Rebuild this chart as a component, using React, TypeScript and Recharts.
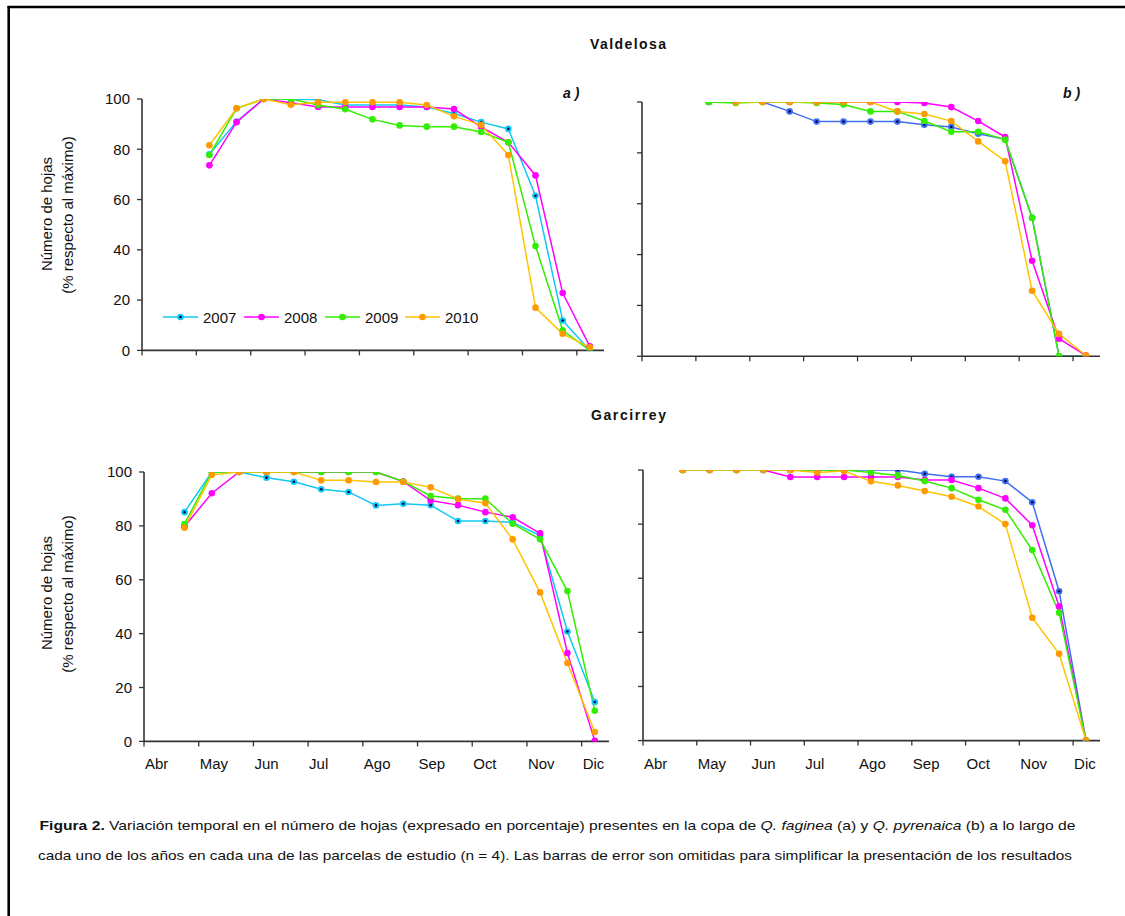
import React from 'react';
import { LineChart, Line, XAxis, YAxis } from 'recharts';

const FONT = '"Liberation Sans", Arial, Helvetica, sans-serif';

const MONTHS = ['Abr', 'May', 'Jun', 'Jul', 'Ago', 'Sep', 'Oct', 'Nov', 'Dic'];
const MONTH_TICKS = [0, 1, 2, 3, 4, 5, 6, 7, 8];
const Y_TICKS = [0, 20, 40, 60, 80, 100];
const YEARS = ['2007', '2008', '2009', '2010'];

// sampling dates, in months counted from 1 April
const TOP_DATES = [1.24, 1.74, 2.24, 2.74, 3.24, 3.74, 4.24, 4.74, 5.24, 5.74, 6.24, 6.74, 7.24, 7.74, 8.24];
const BOTTOM_DATES = [0.74, 1.24, 1.74, 2.24, 2.74, 3.24, 3.74, 4.24, 4.74, 5.24, 5.74, 6.24, 6.74, 7.24, 7.74, 8.24];

// Valdelosa a) Q. faginea
const VAL_A_2007 = [78, 91, 100, 100, 99.7, 97.6, 97.6, 97.6, 96.8, 94.2, 90.8, 88.1, 61.5, 11.9, 0];
const VAL_A_2008 = [73.6, 90.8, 100, 98.5, 96.8, 96.8, 96.8, 96.8, 96.8, 96, 88.9, 82.8, 69.6, 22.8, 1.6];
const VAL_A_2009 = [77.7, 96.3, 100, 100, 97.6, 95.9, 91.9, 89.5, 89, 89, 86.9, 82.8, 41.5, 8, 0];
const VAL_A_2010 = [81.6, 96.3, 100, 97.7, 98.7, 98.7, 98.7, 98.7, 97.6, 93.1, 89.7, 77.7, 17, 6.6, 1.2];

// Valdelosa b) Q. pyrenaica
const VAL_B_2007 = [100, 100, 100, 96.3, 92.3, 92.3, 92.3, 92.3, 91.1, 90.2, 87.5, 85.3, 54.5, 0, 0];
const VAL_B_2008 = [100, 100, 100, 100, 100, 100, 100, 100, 99.6, 98, 92.5, 86.2, 37.6, 6.9, 0.3];
const VAL_B_2009 = [100, 99.6, 100, 100, 99.6, 99, 96.3, 96.3, 92.5, 88.3, 88.3, 85.2, 54.5, 0, 0];
const VAL_B_2010 = [null, 100, 100, 100, 100, 100, 100, 96.3, 95.3, 92.5, 84.5, 76.7, 25.8, 8.8, 0.3];

// Garcirrey a) Q. faginea
const GAR_A_2007 = [85.1, 100, 100, 97.9, 96.4, 93.6, 92.6, 87.6, 88.2, 87.7, 81.8, 81.8, 81.3, 76.4, 40.8, 14.6];
const GAR_A_2008 = [79.8, 92.1, 100, 100, 100, 100, 100, 100, 96.5, 89.4, 87.7, 85.1, 83.2, 77.2, 32.8, 0.2];
const GAR_A_2009 = [80.7, 100, 100, 100, 100, 100, 100, 100, 96.5, 91.1, 90.1, 90.1, 80.8, 75, 55.8, 11.4];
const GAR_A_2010 = [79.3, 99, 100, 100, 100, 96.9, 96.9, 96.3, 96.3, 94.3, 90, 88.4, 75, 55.3, 29.1, 3.5];

// Garcirrey b) Q. pyrenaica
const GAR_B_2007 = [100, 100, 100, 100, 100, 100, 100, 100, 100, 98.6, 97.5, 97.5, 95.9, 88.1, 55.2, 0];
const GAR_B_2008 = [100, 100, 100, 100, 97.4, 97.4, 97.4, 97.4, 97.4, 96.3, 96.3, 93.3, 89.5, 79.6, 49.6, 0];
const GAR_B_2009 = [100, 100, 100, 100, 100, 100, 100, 99.1, 98, 95.9, 93.3, 89, 85.3, 70.4, 47.2, 0];
const GAR_B_2010 = [100, 100, 100, 100, 100, 99.1, 99.6, 95.8, 94.3, 92.2, 90.1, 86.5, 80, 45.4, 32.1, 0];

const PALETTE_A = {
  line: ['#10C8F4', '#FF00FF', '#33EE00', '#FFC400'],
  marker: ['#10C8F4', '#FF00FF', '#33EE00', '#FF9900'],
};
const PALETTE_B = {
  line: ['#3F6FF0', '#FF00FF', '#33EE00', '#FFC400'],
  marker: ['#3F6FF0', '#FF00FF', '#33EE00', '#FF9900'],
};

const AXIS = '#333333';

const EmptyTick = () => <g />;

const YTick = (props: any) => {
  const { x, y, payload } = props;
  return (
    <text x={x} y={y} dy={5.3} textAnchor="end" fontSize={15} fontFamily={FONT} fill="#111">
      {payload.value}
    </text>
  );
};

const XTick = (props: any) => {
  const { x, y, payload } = props;
  return (
    <text x={x + 1} y={y} dy={21} textAnchor="start" fontSize={15} fontFamily={FONT} fill="#111">
      {MONTHS[payload.value]}
    </text>
  );
};

function makeDot(color: string, center: boolean) {
  return (props: any) => {
    const { cx, cy, index } = props;
    if (cx == null || cy == null || props.value == null) return <g key={`d${index}`} />;
    return (
      <g key={`d${index}`}>
        <circle cx={cx} cy={cy} r={3.3} fill={color} stroke="none" />
        {center && <circle cx={cx} cy={cy} r={1.3} fill="#000050" stroke="none" />}
      </g>
    );
  };
}

type Rect = { l: number; t: number; r: number; b: number };

function Panel({ rect, dates, series, palette, yLabels, xLabels }: {
  rect: Rect; dates: number[]; series: (number | null)[][]; palette: typeof PALETTE_A; yLabels: boolean; xLabels: boolean;
}) {
  const padL = 100, padT = 40, padR = 20, padB = 40;
  const width = rect.r - rect.l + padL + padR;
  const height = rect.b - rect.t + padT + padB;
  const data = dates.map((d, i) => {
    const row: any = { x: d };
    YEARS.forEach((yr, k) => { row['y' + yr] = series[k][i]; });
    return row;
  });
  return (
    <div style={{ position: 'absolute', left: rect.l - padL, top: rect.t - padT }}>
      <LineChart width={width} height={height} data={data}
        margin={{ top: padT, right: padR, bottom: padB - 30, left: padL - 50 }}>
        <XAxis dataKey="x" type="number" domain={[0, 8.5]} ticks={MONTH_TICKS} allowDataOverflow
          height={30} tickSize={5} tickMargin={2} interval={0}
          axisLine={{ stroke: AXIS, strokeWidth: 1.6 }} tickLine={{ stroke: AXIS, strokeWidth: 1.3 }}
          tick={xLabels ? XTick : EmptyTick} />
        <YAxis type="number" domain={[0, 100]} ticks={Y_TICKS} allowDataOverflow width={50}
          tickSize={5} tickMargin={7} interval={0}
          axisLine={{ stroke: AXIS, strokeWidth: 1.6 }} tickLine={{ stroke: AXIS, strokeWidth: 1.3 }}
          tick={yLabels ? YTick : EmptyTick} />
        {YEARS.map((yr, k) => (
          <Line key={yr} type="linear" dataKey={'y' + yr} stroke={palette.line[k]} strokeWidth={1.5}
            dot={makeDot(palette.marker[k], k === 0)} activeDot={false} isAnimationActive={false} />
        ))}
      </LineChart>
    </div>
  );
}

function YLabel({ cy }: { cy: number }) {
  return (
    <g fontFamily={FONT} fontSize={15} fill="#111" textAnchor="middle">
      <text x={52} y={cy} transform={`rotate(-90 52 ${cy})`}>Número de hojas</text>
      <text x={73} y={cy + 1} transform={`rotate(-90 73 ${cy + 1})`}>(% respecto al máximo)</text>
    </g>
  );
}

const LEGEND_X = [163, 244, 325, 405];

export default function App() {
  return (
    <div style={{ position: 'absolute', left: 0, top: 0, width: 1125, height: 916, background: '#fff', overflow: 'hidden' }}>
      <Panel rect={{ l: 142, t: 99.3, r: 604, b: 350.7 }} dates={TOP_DATES}
        series={[VAL_A_2007, VAL_A_2008, VAL_A_2009, VAL_A_2010]} palette={PALETTE_A} yLabels xLabels={false} />
      <Panel rect={{ l: 642, t: 101.7, r: 1100, b: 356 }} dates={TOP_DATES}
        series={[VAL_B_2007, VAL_B_2008, VAL_B_2009, VAL_B_2010]} palette={PALETTE_B} yLabels={false} xLabels={false} />
      <Panel rect={{ l: 144, t: 472.3, r: 609, b: 741.7 }} dates={BOTTOM_DATES}
        series={[GAR_A_2007, GAR_A_2008, GAR_A_2009, GAR_A_2010]} palette={PALETTE_A} yLabels xLabels />
      <Panel rect={{ l: 643, t: 469.7, r: 1100, b: 740.3 }} dates={BOTTOM_DATES}
        series={[GAR_B_2007, GAR_B_2008, GAR_B_2009, GAR_B_2010]} palette={PALETTE_B} yLabels={false} xLabels />
      <svg width={1125} height={916} style={{ position: 'absolute', left: 0, top: 0, pointerEvents: 'none' }}>
        <line x1={7.5} y1={7} x2={1125} y2={7} stroke="#000" strokeWidth={2.5} />
        <line x1={8.7} y1={6} x2={8.7} y2={916} stroke="#000" strokeWidth={2.6} />
        <text x={628} y={49} textAnchor="middle" fontFamily={FONT} fontSize={14} fontWeight="bold"
          textLength={76} lengthAdjust="spacing" fill="#111">Valdelosa</text>
        <text x={628.5} y={420} textAnchor="middle" fontFamily={FONT} fontSize={14} fontWeight="bold"
          textLength={75} lengthAdjust="spacing" fill="#111">Garcirrey</text>
        <text x={563} y={98} fontFamily={FONT} fontSize={14} fontWeight="bold" fontStyle="italic" fill="#111">a )</text>
        <text x={1063} y={98} fontFamily={FONT} fontSize={14} fontWeight="bold" fontStyle="italic" fill="#111">b )</text>
        <YLabel cy={214} />
        <YLabel cy={593} />
        {YEARS.map((yr, k) => (
          <g key={yr}>
            <line x1={LEGEND_X[k]} y1={317} x2={LEGEND_X[k] + 35} y2={317} stroke={PALETTE_A.line[k]} strokeWidth={1.5} />
            <circle cx={LEGEND_X[k] + 17.5} cy={317} r={3.3} fill={PALETTE_A.marker[k]} />
            {k === 0 && <circle cx={LEGEND_X[k] + 17.5} cy={317} r={1.3} fill="#000050" />}
            <text x={LEGEND_X[k] + 40} y={322.5} fontFamily={FONT} fontSize={15} fill="#111">{yr}</text>
          </g>
        ))}
        <text x={557.5} y={830} textAnchor="middle" fontFamily={FONT} fontSize={13.5} fill="#111"
          textLength={1036} lengthAdjust="spacingAndGlyphs">
          <tspan fontWeight="bold">Figura 2.</tspan>
          <tspan>{' Variación temporal en el número de hojas (expresado en porcentaje) presentes en la copa de '}</tspan>
          <tspan fontStyle="italic">Q. faginea</tspan>
          <tspan>{' (a) y '}</tspan>
          <tspan fontStyle="italic">Q. pyrenaica</tspan>
          <tspan>{' (b) a lo largo de'}</tspan>
        </text>
        <text x={555} y={860} textAnchor="middle" fontFamily={FONT} fontSize={13.5} fill="#111"
          textLength={1034} lengthAdjust="spacingAndGlyphs">
          cada uno de los años en cada una de las parcelas de estudio (n = 4). Las barras de error son omitidas para simplificar la presentación de los resultados
        </text>
      </svg>
    </div>
  );
}
